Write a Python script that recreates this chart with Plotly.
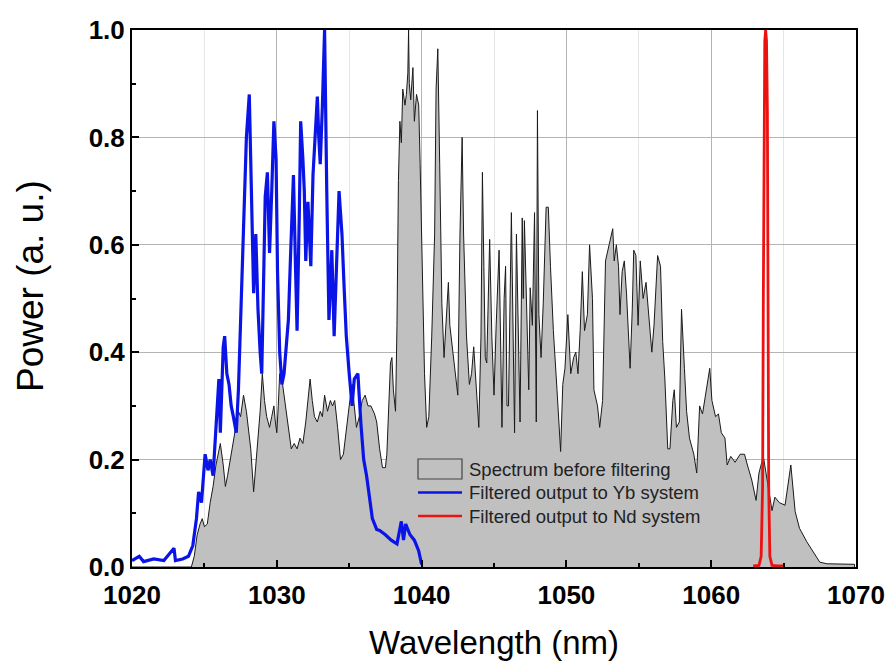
import plotly.graph_objects as go

# Spectrum before filtering (gray, black outline)
spec_x = [1020.0, 1024.1, 1024.3, 1024.5, 1024.7, 1024.85, 1025.0, 1025.2, 1025.4, 1025.6, 1025.8, 1026.0, 1026.1,
          1026.3, 1026.45, 1026.6, 1026.8, 1027.0, 1027.15, 1027.35, 1027.5, 1027.7, 1027.9, 1028.05, 1028.2, 1028.4,
          1028.55, 1028.7, 1028.85, 1029.0, 1029.15, 1029.3, 1029.5, 1029.65, 1029.8, 1029.9, 1030.0, 1030.1, 1030.2,
          1030.4, 1030.55, 1030.7, 1030.85, 1031.0, 1031.2, 1031.4, 1031.6, 1031.8, 1032.0, 1032.1, 1032.3, 1032.45,
          1032.6, 1032.8, 1033.0, 1033.15, 1033.3, 1033.5, 1033.7, 1033.85, 1034.0, 1034.2, 1034.4, 1034.6, 1034.8,
          1035.0, 1035.2, 1035.35, 1035.5, 1035.7, 1035.9, 1036.1, 1036.3, 1036.5, 1036.75, 1036.9, 1037.1, 1037.3,
          1037.5, 1037.6, 1037.7, 1037.85, 1037.95, 1038.05, 1038.2, 1038.3, 1038.4, 1038.5, 1038.6, 1038.7, 1038.85,
          1038.95, 1039.05, 1039.1, 1039.15, 1039.25, 1039.4, 1039.5, 1039.65, 1039.8, 1039.9, 1040.05, 1040.2,
          1040.35, 1040.5, 1040.7, 1040.9, 1041.0, 1041.12, 1041.25, 1041.4, 1041.55, 1041.7, 1041.85, 1041.95,
          1042.15, 1042.3, 1042.5, 1042.65, 1042.8, 1042.9, 1043.1, 1043.3, 1043.45, 1043.6, 1043.8, 1043.95, 1044.1,
          1044.2, 1044.3, 1044.4, 1044.5, 1044.7, 1044.85, 1045.0, 1045.15, 1045.35, 1045.45, 1045.55, 1045.7,
          1045.8, 1045.9, 1046.0, 1046.2, 1046.3, 1046.42, 1046.55, 1046.7, 1046.8, 1046.95, 1047.02, 1047.1,
          1047.25, 1047.4, 1047.5, 1047.65, 1047.8, 1047.92, 1048.0, 1048.1, 1048.25, 1048.4, 1048.6, 1048.75,
          1048.9, 1049.1, 1049.35, 1049.6, 1049.75, 1049.9, 1050.1, 1050.3, 1050.5, 1050.65, 1050.8, 1050.95,
          1051.1, 1051.25, 1051.45, 1051.6, 1051.8, 1051.9, 1052.15, 1052.3, 1052.5, 1052.7, 1052.95, 1053.1,
          1053.2, 1053.3, 1053.45, 1053.6, 1053.7, 1053.85, 1054.0, 1054.15, 1054.4, 1054.55, 1054.65, 1054.8,
          1054.95, 1055.1, 1055.3, 1055.5, 1055.7, 1055.9, 1056.05, 1056.3, 1056.5, 1056.65, 1056.8, 1057.0,
          1057.15, 1057.35, 1057.45, 1057.6, 1057.8, 1057.95, 1058.15, 1058.3, 1058.5, 1058.8, 1059.0, 1059.2,
          1059.4, 1059.65, 1059.9, 1060.05, 1060.3, 1060.5, 1060.7, 1060.95, 1061.1, 1061.35, 1061.65, 1062.0,
          1062.3, 1062.5, 1062.8, 1063.1, 1063.3, 1063.6, 1063.8, 1064.2, 1064.4, 1064.7, 1065.1, 1065.5, 1065.8,
          1066.1, 1066.6, 1067.05, 1067.5, 1068.0, 1069.9, 1069.9]
spec_y = [0.0, 0.0, 0.02, 0.06, 0.08, 0.09, 0.075, 0.08, 0.12, 0.15, 0.19, 0.22, 0.23,
          0.19, 0.15, 0.17, 0.2, 0.23, 0.26, 0.29, 0.28, 0.32, 0.29, 0.25, 0.22, 0.14,
          0.19, 0.25, 0.29, 0.36, 0.31, 0.28, 0.26, 0.28, 0.30, 0.27, 0.25, 0.30, 0.36,
          0.34, 0.31, 0.29, 0.25, 0.22, 0.23, 0.22, 0.24, 0.23, 0.27, 0.30, 0.35, 0.31,
          0.28, 0.27, 0.29, 0.28, 0.32, 0.29, 0.31, 0.30, 0.31, 0.26, 0.20, 0.21, 0.26,
          0.30, 0.34, 0.30, 0.26, 0.28, 0.31, 0.32, 0.30, 0.30, 0.285, 0.27, 0.22, 0.185,
          0.185, 0.21, 0.28, 0.38, 0.39, 0.33, 0.29, 0.45, 0.72, 0.83, 0.79, 0.89, 0.86,
          0.88, 0.92, 1.0, 0.9, 0.87, 0.93, 0.83, 0.88, 0.86, 0.75, 0.56, 0.36,
          0.26, 0.28, 0.43, 0.62, 0.89, 0.965, 0.75, 0.49, 0.39, 0.45, 0.53, 0.45,
          0.40, 0.36, 0.32, 0.62, 0.80, 0.62, 0.43, 0.34, 0.36, 0.41, 0.31, 0.26, 0.43,
          0.735, 0.56, 0.39, 0.38, 0.61, 0.43, 0.32, 0.45, 0.59, 0.43, 0.26, 0.5,
          0.56, 0.30, 0.30, 0.66, 0.43, 0.25, 0.62, 0.43, 0.27, 0.65, 0.50, 0.645,
          0.47, 0.33, 0.52, 0.45, 0.66, 0.27, 0.85, 0.47, 0.39, 0.49, 0.67, 0.67,
          0.56, 0.44, 0.33, 0.215, 0.34, 0.37, 0.47, 0.36, 0.39, 0.40, 0.36, 0.44,
          0.55, 0.44, 0.47, 0.60, 0.50, 0.33, 0.30, 0.26, 0.31, 0.57, 0.60, 0.62,
          0.63, 0.57, 0.60, 0.56, 0.47, 0.55, 0.57, 0.51, 0.37, 0.48, 0.59, 0.58,
          0.45, 0.57, 0.50, 0.53, 0.46, 0.40, 0.45, 0.58, 0.56, 0.42, 0.35, 0.22,
          0.22, 0.31, 0.33, 0.26, 0.27, 0.48, 0.37, 0.29, 0.24, 0.21, 0.175, 0.30,
          0.285, 0.33, 0.37, 0.31, 0.28, 0.285, 0.25, 0.24, 0.19, 0.206, 0.195, 0.21,
          0.21, 0.19, 0.162, 0.124, 0.175, 0.206, 0.17, 0.105, 0.13, 0.12, 0.115, 0.19, 0.103,
          0.072, 0.047, 0.028, 0.009, 0.006, 0.005, 0.0]

# Filtered output to Yb system (blue)
yb_x = [1020.0, 1020.5, 1020.8, 1021.5, 1022.2, 1022.9, 1023.0, 1023.5, 1023.9, 1024.2, 1024.45, 1024.6, 1024.8,
        1025.05, 1025.25, 1025.4, 1025.6, 1025.85, 1026.0, 1026.1, 1026.3, 1026.4, 1026.55, 1026.7, 1026.85, 1027.0,
        1027.2, 1027.35, 1027.5, 1027.7, 1027.9, 1028.1, 1028.2, 1028.3, 1028.4, 1028.55, 1028.7, 1028.85, 1028.96,
        1029.1, 1029.2, 1029.35, 1029.45, 1029.5, 1029.65, 1029.8, 1029.95, 1030.05, 1030.2, 1030.35, 1030.5,
        1030.65, 1030.8, 1030.95, 1031.15, 1031.3, 1031.4, 1031.55, 1031.65, 1031.8, 1031.9, 1032.0, 1032.15,
        1032.25, 1032.35, 1032.5, 1032.65, 1032.8, 1032.9, 1033.0, 1033.15, 1033.3, 1033.45, 1033.6, 1033.7,
        1033.8, 1033.96, 1034.1, 1034.3, 1034.4, 1034.5, 1034.65, 1034.8, 1035.0, 1035.2, 1035.35, 1035.6,
        1035.8, 1036.0, 1036.2, 1036.4, 1036.6, 1036.9, 1037.1, 1037.5, 1037.9, 1038.3, 1038.6, 1038.75, 1038.9,
        1039.2, 1039.5, 1039.8, 1040.0]
yb_y = [0.012, 0.02, 0.01, 0.015, 0.012, 0.035, 0.012, 0.015, 0.02, 0.04, 0.09, 0.14, 0.12,
        0.21, 0.18, 0.2, 0.17, 0.28, 0.35, 0.25, 0.41, 0.43, 0.36, 0.34, 0.30, 0.28,
        0.25, 0.33, 0.47, 0.62, 0.80, 0.88, 0.77, 0.66, 0.51, 0.62, 0.48, 0.40, 0.36,
        0.55, 0.69, 0.735, 0.62, 0.585, 0.70, 0.83, 0.76, 0.55, 0.40, 0.34, 0.36,
        0.42, 0.46, 0.58, 0.73, 0.55, 0.44, 0.65, 0.83, 0.76, 0.70, 0.57, 0.68,
        0.62, 0.56, 0.73, 0.80, 0.876, 0.80, 0.75, 0.86, 1.0, 0.70, 0.46, 0.52,
        0.59, 0.43, 0.55, 0.70, 0.66, 0.62, 0.52, 0.43, 0.36, 0.30, 0.35, 0.36,
        0.27, 0.2, 0.17, 0.13, 0.09, 0.07, 0.068, 0.06, 0.05, 0.043, 0.085, 0.05, 0.08,
        0.06, 0.05, 0.03, 0.005]

# Filtered output to Nd system (red)
nd_x = [1062.9, 1063.3, 1063.45, 1063.55, 1063.6, 1063.64, 1063.7, 1063.76, 1063.82, 1063.88, 1063.93,
        1063.97, 1064.05, 1064.2, 1064.6, 1065.1]
nd_y = [0.002, 0.003, 0.02, 0.15, 0.5, 0.85, 0.98, 1.0, 0.98, 0.85, 0.5,
        0.15, 0.02, 0.003, 0.002, 0.002]

names = ["Spectrum before filtering", "Filtered output to Yb system", "Filtered output to Nd system"]
colors = ["#c0c0c0", "#0a14e6", "#ee1111"]

FONT = "Liberation Sans, Arial, sans-serif"

fig = go.Figure()
fig.add_trace(go.Scatter(x=spec_x, y=spec_y, mode="lines", name=names[0], showlegend=False,
                         line=dict(color="#1a1a1a", width=1), fill="toself",
                         fillcolor=colors[0]))
fig.add_trace(go.Scatter(x=yb_x, y=yb_y, mode="lines", name=names[1], showlegend=False,
                         line=dict(color=colors[1], width=3.2)))
fig.add_trace(go.Scatter(x=nd_x, y=nd_y, mode="lines", name=names[2], showlegend=False,
                         line=dict(color=colors[2], width=2.8)))

# paper-coordinate helpers (plot area 132..856 x, 30..567 y)
def px_x(p):
    return (p - 132) / 724.0

def px_y(p):
    return (567 - p) / 537.0

# legend: keys as shapes, labels as annotations
rows = [469, 492.5, 516]
fig.add_shape(type="rect", xref="paper", yref="paper",
              x0=px_x(418), x1=px_x(462), y0=px_y(rows[0] + 10), y1=px_y(rows[0] - 10),
              fillcolor=colors[0], line=dict(color="#444444", width=1.2), layer="above")
for r, c in zip(rows[1:], colors[1:]):
    fig.add_shape(type="line", xref="paper", yref="paper",
                  x0=px_x(418), x1=px_x(462), y0=px_y(r), y1=px_y(r),
                  line=dict(color=c, width=2.5), layer="above")
for r, nm in zip(rows, names):
    fig.add_annotation(xref="paper", yref="paper", x=px_x(467), y=px_y(r),
                       xanchor="left", yanchor="middle", showarrow=False, text=nm,
                       font=dict(size=18.5, family=FONT, color="#222222"))

# y-axis title
fig.add_annotation(xref="paper", yref="paper", x=px_x(30), y=px_y(286),
                   xanchor="center", yanchor="middle", showarrow=False, textangle=-90,
                   text="Power (a. u.)", font=dict(size=37, family=FONT, color="black"))

fig.update_layout(
    width=893, height=661,
    margin=dict(l=132, r=37, t=30, b=94),
    paper_bgcolor="white", plot_bgcolor="white",
    font=dict(family=FONT, color="black"),
    showlegend=False,
    xaxis=dict(range=[1020, 1070], tick0=1020, dtick=10, automargin=False,
               showgrid=True, gridcolor="#b4b4b4", gridwidth=1,
               ticks="inside", ticklen=7, tickwidth=1.5, tickcolor="black",
               minor=dict(dtick=5, showgrid=True, gridcolor="#e6e6e6", ticks="inside",
                          ticklen=4, tickcolor="black"),
               showline=True, linecolor="black", linewidth=2, mirror=True,
               zeroline=False, ticklabelstandoff=4,
               tickfont=dict(size=26, family=FONT, weight="bold"),
               title=dict(text="Wavelength (nm)", font=dict(size=33, family=FONT), standoff=25)),
    yaxis=dict(range=[0, 1.0], tick0=0, dtick=0.2, tickformat=".1f", automargin=False,
               showgrid=True, gridcolor="#b4b4b4", gridwidth=1,
               ticks="inside", ticklen=7, tickwidth=1.5, tickcolor="black",
               minor=dict(dtick=0.1, showgrid=False, ticks="inside", ticklen=4, tickcolor="black"),
               showline=True, linecolor="black", linewidth=2, mirror=True,
               zeroline=False,
               tickfont=dict(size=26, family=FONT, weight="bold")),
)

fig.write_html("out.html")
